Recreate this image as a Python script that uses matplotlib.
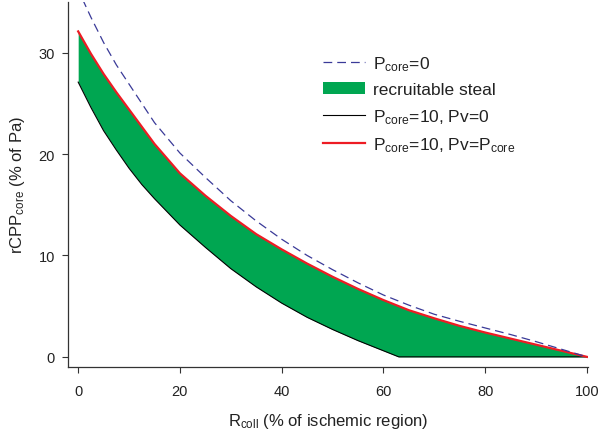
import matplotlib
matplotlib.use("Agg")
import numpy as np
import matplotlib.pyplot as plt
from matplotlib.patches import Patch
from matplotlib.lines import Line2D

plt.rcParams["font.family"] = ["Liberation Sans", "DejaVu Sans"]
plt.rcParams["mathtext.fontset"] = "custom"
plt.rcParams["mathtext.rm"] = "Liberation Sans"
plt.rcParams["mathtext.it"] = "Liberation Sans:italic"

# R_coll (% of ischemic region)
r_coll = [0, 2.5, 5, 7.5, 10, 12.5, 15, 20, 25, 30, 35, 40, 45, 50, 55, 60,
          63, 65, 70, 75, 80, 85, 90, 95, 100]
# rCPP_core (% of Pa)
p_core0 = [36.2, 33.5, 31.0, 28.8, 26.9, 25.0, 23.1, 20.1, 17.7, 15.4, 13.4,
           11.6, 10.0, 8.6, 7.3, 6.1, 5.5, 5.1, 4.2, 3.5, 2.85, 2.2, 1.5,
           0.75, 0]
p_core10_pv0 = [27.1, 24.6, 22.3, 20.4, 18.6, 17.0, 15.6, 13.0, 10.8, 8.7,
                6.9, 5.3, 3.9, 2.7, 1.6, 0.6, 0, 0, 0, 0, 0, 0, 0, 0, 0]
p_core10_pvcore = [32.1, 29.9, 27.9, 26.1, 24.4, 22.7, 21.0, 18.1, 15.9, 13.9,
                   12.1, 10.6, 9.2, 7.9, 6.7, 5.6, 5.0, 4.6, 3.8, 3.05, 2.4,
                   1.8, 1.2, 0.6, 0]

green = "#00a651"
red = "#ed1c24"
blue = "#3a3a98"
axcol = "#333333"

fig = plt.figure(figsize=(6.03, 4.35), dpi=100)
ax = fig.add_axes([68 / 603, 1 - 368 / 435, 520 / 603, 365 / 435])

ax.fill_between(r_coll, p_core10_pv0, p_core10_pvcore, color=green, lw=0)
ax.plot(r_coll, p_core10_pv0, color="black", lw=0.8)
ax.plot(r_coll, p_core10_pvcore, color=red, lw=1.6)
ax.plot(r_coll, p_core0, color=blue, lw=0.9, dashes=(7, 4))

ax.set_xlim(-2, 100.2)
ax.set_ylim(-1, 35.0)
ax.set_xticks([0, 20, 40, 60, 80, 100])
ax.set_yticks([0, 10, 20, 30])

for s in ["top", "right"]:
    ax.spines[s].set_visible(False)
for s in ["left", "bottom"]:
    ax.spines[s].set_color(axcol)
    ax.spines[s].set_linewidth(0.9)
ax.tick_params(axis="both", direction="out", length=4.5, width=0.8,
               color=axcol, labelsize=10.5, labelcolor="#222222")
ax.tick_params(axis="x", pad=8)
ax.tick_params(axis="y", pad=5)

ax.set_xlabel(r"R$_{\mathrm{coll}}$ (% of ischemic region)", fontsize=12,
              color="#222222", va="baseline")
ax.xaxis.set_label_coords(0.5, (368 - 426) / 365)
ax.set_ylabel(r"rCPP$_{\mathrm{core}}$ (% of Pa)", fontsize=12,
              color="#222222")
ax.yaxis.set_label_coords((27 - 68) / 520, 0.5)

handles = [
    Line2D([], [], color=blue, lw=0.9, dashes=(7, 4)),
    Patch(facecolor=green, edgecolor="none"),
    Line2D([], [], color="black", lw=0.8),
    Line2D([], [], color=red, lw=1.6),
]
labels = [
    r"P$_{\mathrm{core}}$=0",
    "recruitable steal",
    r"P$_{\mathrm{core}}$=10, Pv=0",
    r"P$_{\mathrm{core}}$=10, Pv=P$_{\mathrm{core}}$",
]
fig.legend(handles, labels, loc="upper left",
           bbox_to_anchor=(323 / 603, 1 - 55 / 435), frameon=False,
           fontsize=12.5, handlelength=2.4, handletextpad=0.5,
           labelspacing=0.55, borderpad=0, borderaxespad=0,
           labelcolor="#222222")

fig.savefig("out.png", dpi=100)
